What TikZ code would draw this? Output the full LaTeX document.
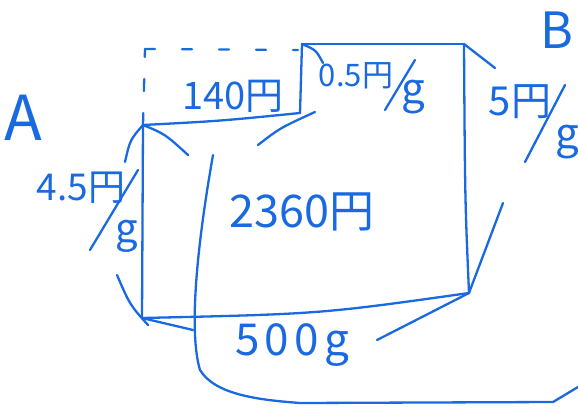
\documentclass[tikz,border=0pt]{standalone}
\usepackage{fontspec}
\setmainfont{Noto Sans CJK JP}
\newfontfamily\widefont[LetterSpace=12]{Noto Sans CJK JP}
\definecolor{ink}{RGB}{25,105,225}
\begin{document}
\begin{tikzpicture}[x=1pt,y=-1pt,
  pen/.style={draw=ink, line width=2.3pt, line cap=round, line join=round},
  lab/.style={text=ink, inner sep=0pt},
  fs/.style={font=\fontsize{#1}{#1}\selectfont}]
\useasboundingbox (0,0) rectangle (578,412);
% corners
\coordinate (tl) at (143,125);
\coordinate (ml) at (300,113);
\coordinate (tm) at (302,44);
\coordinate (tr) at (464,44);
\coordinate (br) at (469,293);
\coordinate (bl) at (142,318);
\coordinate (dtl) at (145,49);
\coordinate (dtr) at (298,50);
% free ends of marks
\coordinate (m1) at (188,155);
\coordinate (m2) at (125,162);
\coordinate (m3a) at (258,145);
\coordinate (m3b) at (315,112);
\coordinate (m4) at (323,63);
\coordinate (m5) at (495,68);
\coordinate (m6) at (503,203);
\coordinate (m7) at (377,340);
\coordinate (m8) at (193,330);
\coordinate (m9a) at (117,275);
\coordinate (m9b) at (148,325);
\coordinate (c1) at (213,155);
\coordinate (c2) at (200,370);
\coordinate (c3) at (300,403);
\coordinate (c4) at (553,402);
\coordinate (c5) at (578,387);
% dashed part
\draw[pen, dash pattern=on 12pt off 22pt] (tl) -- (dtl);
\draw[pen, dash pattern=on 10pt off 27pt] (dtl) -- (dtr);
% solid box lines
\draw[pen] (tl) .. controls (220,121) .. (ml);
\draw[pen] (tm) -- (ml);
\draw[pen] (tm) -- (tr);
\draw[pen] (tr) .. controls (465,200) .. (br);
\draw[pen] (tl) -- (bl);
\draw[pen] (bl) .. controls (320,314) .. (br);
% marks
\draw[pen] (tl) .. controls (165,134) .. (m1);
\draw[pen] (tl) .. controls (130,140) .. (m2);
\draw[pen] (m3a) .. controls (280,128) .. (m3b);
\draw[pen] (tm) .. controls (316,50) .. (m4);
\draw[pen] (tr) .. controls (480,56) .. (m5);
\draw[pen] (br) -- (m6);
\draw[pen] (br) -- (m7);
\draw[pen] (bl) -- (m8);
\draw[pen] (m9a) .. controls (130,305) .. (m9b);
\draw[pen] (c1) .. controls (198,240) and (188,330) .. (c2)
  .. controls (215,395) and (260,400) .. (c3) -- (c4) -- (c5);
% slashes
\coordinate (s1a) at (415,60);  \coordinate (s1b) at (385,110);
\coordinate (s2a) at (565,85);  \coordinate (s2b) at (525,162);
\coordinate (s3a) at (138,170); \coordinate (s3b) at (90,250);
\draw[pen] (s1a) -- (s1b);
\draw[pen] (s2a) -- (s2b);
\draw[pen] (s3a) -- (s3b);
% labels
\node[lab, fs=62] (A) at (23,118) {A};
\node[lab, fs=50] (B) at (557,30) {B};
\node[lab, fs=38] (t140) at (233,96) {140円};
\node[lab, fs=31] (t05) at (356,76) {0.5円};
\node[lab, fs=42] (g1) at (413,97) {g};
\node[lab, fs=40] (t5) at (520,102) {5円};
\node[lab, fs=42] (g2) at (567,142) {g};
\node[lab, fs=37] (t45) at (81,188) {4.5円};
\node[lab, fs=40] (g3) at (127,236) {g};
\node[lab, fs=45] (t2360) at (302,212) {2360円};
\node[lab, font=\widefont\fontsize{44}{44}\selectfont] (t500) at (292,345) {500g};
\end{tikzpicture}
\end{document}
